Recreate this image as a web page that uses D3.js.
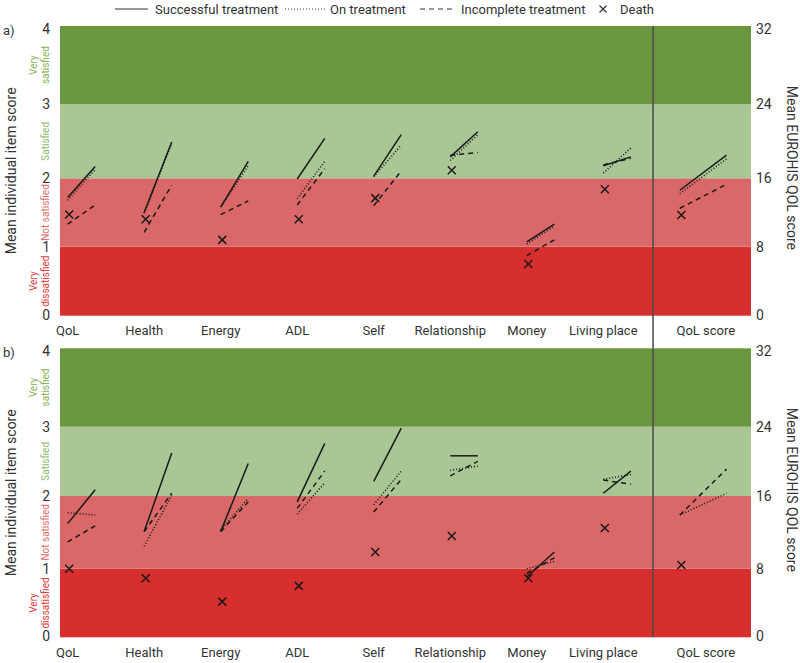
<!DOCTYPE html>
<html><head><meta charset="utf-8">
<script src="https://cdn.jsdelivr.net/npm/d3@7"></script>
<style>body{margin:0;background:#fff}svg{display:block;font-family:Roboto,"Noto Sans",sans-serif}</style>
</head><body><svg id="chart" width="800" height="663"></svg>
<script>
// ---------- data ----------
const categories = ["QoL","Health","Energy","ADL","Self","Relationship","Money","Living place","QoL score"];
const itemTicks = [0,1,2,3,4];
const scoreTicks = [0,8,16,24,32];
const bandNames = [["Very","dissatisfied"],["Not satisfied"],["Satisfied"],["Very","satisfied"]];
const seriesNames = ["Successful treatment","On treatment","Incomplete treatment","Death"];
const panelNames = ["a)","b)"];

// [baseline, follow-up]; last entry is the EUROHIS QOL score (0-32)
const successA    = [[1.72,2.16],[1.50,2.49],[1.58,2.23],[1.99,2.54],[2.03,2.59],[2.29,2.63],[1.07,1.33],[2.17,2.29],[14.6,18.5]];
const onTreatA    = [[1.68,2.12],[1.49,2.47],[1.58,2.17],[1.70,2.23],[2.02,2.45],[2.24,2.59],[1.04,1.30],[2.07,2.41],[14.2,18.1]];
const incompleteA = [[1.33,1.61],[1.21,1.90],[1.47,1.67],[1.61,2.13],[1.60,2.10],[2.31,2.35],[0.87,1.10],[2.18,2.27],[12.5,15.3]];
const deathA      = [1.47,1.40,1.10,1.40,1.71,2.11,0.75,1.84,11.7];

const successB    = [[1.62,2.09],[1.51,2.62],[1.51,2.47],[1.92,2.76],[2.21,2.98],[2.58,2.58],[0.88,1.23],[2.04,2.36],null];
const onTreatB    = [[1.77,1.74],[1.31,2.01],[1.53,1.97],[1.75,2.19],[1.88,2.36],[2.37,2.43],[1.00,1.10],[2.24,2.31],[13.9,16.3]];
const incompleteB = [[1.37,1.59],[1.51,2.04],[1.51,1.92],[1.83,2.36],[1.78,2.24],[2.29,2.50],[0.93,1.15],[2.23,2.17],[13.9,19.1]];
const deathB      = [1.00,0.86,0.52,0.75,1.23,1.45,0.86,1.56,8.4];

// ---------- layout / style ----------
const svg = d3.select("#chart");
const left = 60, right = 751;
const bandColors = ["#d62f2d","#da6868","#a9c795","#6a973e"];
const bandTextColors = ["#e4393a","#e26b6b","#8fbd6c","#86b454"];
const lineStyles = [null, "1,2", "5,4"];
const panels = [
  {top:26, stops:[315.7,246.7,178.3,104.3,26], series:[successA,onTreatA,incompleteA], death:deathA},
  {top:348.3, stops:[637.3,568.7,496,426.7,348.3], series:[successB,onTreatB,incompleteB], death:deathB}
];
const x = d3.scaleLinear().domain([-0.1, 8.93]).range([left, right]);
const span = i => i === 8 ? 0.61 : 0.36;
const line = d3.line().x(d => d[0]).y(d => d[1]);
const crossPath = "M-4,-4L4,4M-4,4L4,-4";

panels.forEach((p, pi) => {
  const y = d3.scaleLinear().domain(itemTicks).range(p.stops);
  const yS = d3.scaleLinear().domain(scoreTicks).range(p.stops);
  const g = svg.append("g");
  // bands
  g.selectAll("rect.band").data(d3.range(4)).join("rect")
    .attr("x", left).attr("width", right - left)
    .attr("y", k => y(k + 1)).attr("height", k => y(k) - y(k + 1))
    .attr("fill", k => bandColors[k]);
  // band labels
  bandNames.forEach((nm, k) => {
    const yc = (y(k) + y(k + 1)) / 2;
    nm.forEach((t, j) => {
      const xx = nm.length === 2 ? (j === 0 ? 33 : 45) : 45;
      g.append("text").attr("transform", `translate(${xx},${yc}) rotate(-90)`)
        .attr("text-anchor", "middle").attr("dy", "0.35em")
        .attr("font-size", 10).attr("fill", bandTextColors[k]).text(t);
    });
  });
  // left ticks
  g.selectAll("text.lt").data(itemTicks).join("text")
    .attr("x", 50).attr("y", d => y(d) + (d === 4 ? 3 : d === 0 ? -1 : 0))
    .attr("text-anchor", "end").attr("dy", "0.35em").attr("font-size", 14).attr("fill", "#333")
    .text(d => d);
  // right ticks
  g.selectAll("text.rt").data(scoreTicks).join("text")
    .attr("x", 756).attr("y", d => yS(d) + (d === 32 ? 3 : d === 0 ? -1 : 0))
    .attr("text-anchor", "start").attr("dy", "0.35em").attr("font-size", 14).attr("fill", "#333")
    .text(d => d);
  // axis titles
  const mid = (p.stops[0] + p.stops[4]) / 2;
  g.append("text").attr("transform", `translate(11,${mid}) rotate(-90)`)
    .attr("text-anchor", "middle").attr("dy", "0.35em").attr("font-size", 14).attr("fill", "#333")
    .text("Mean individual item score");
  g.append("text").attr("transform", `translate(792,${mid - 3}) rotate(90)`)
    .attr("text-anchor", "middle").attr("dy", "0.35em").attr("font-size", 14).attr("fill", "#333")
    .text("Mean EUROHIS QOL score");
  // panel label
  g.append("text").attr("x", 3).attr("y", p.stops[4] + 4).attr("dy", "0.35em")
    .attr("font-size", 13).attr("fill", "#333").text(panelNames[pi]);
  // category labels
  g.selectAll("text.cat").data(categories).join("text")
    .attr("x", (d, i) => x(i === 8 ? 8.34 : i))
    .attr("y", p.stops[0] + 15).attr("dy", "0.35em")
    .attr("text-anchor", "middle").attr("font-size", 13).attr("fill", "#333")
    .text(d => d);
  // series lines
  p.series.forEach((arr, si) => {
    arr.forEach((v, i) => {
      if (!v) return;
      const sc = i === 8 ? yS : y;
      g.append("path")
        .attr("d", line([[x(i), sc(v[0])], [x(i + span(i)), sc(v[1])]]))
        .attr("fill", "none").attr("stroke", "#1a1a1a").attr("stroke-width", si === 1 ? 1.6 : 1.5)
        .attr("stroke-dasharray", lineStyles[si]);
    });
  });
  // death markers
  g.selectAll("path.death").data(p.death).join("path")
    .attr("transform", (d, i) => `translate(${x(i + 0.02)},${(i === 8 ? yS : y)(d)})`)
    .attr("d", crossPath).attr("fill", "none").attr("stroke", "#1a1a1a").attr("stroke-width", 1.5);
});

// divider
svg.append("line").attr("x1", x(7.65)).attr("x2", x(7.65))
  .attr("y1", panels[0].top).attr("y2", panels[1].stops[0])
  .attr("stroke", "#4a4a4a").attr("stroke-width", 1.5);

// legend
const legend = svg.append("g").attr("font-size", 13).attr("fill", "#333");
const legItems = [
  {x0:115, x1:148, tx:155, style:null},
  {x0:285, x1:326, tx:330, style:"1,2"},
  {x0:420, x1:455, tx:461, style:"5,4"},
];
legItems.forEach((it, k) => {
  legend.append("path").attr("d", line([[it.x0, 9], [it.x1, 9]]))
    .attr("stroke", "#333").attr("stroke-width", 1.2).attr("fill", "none")
    .attr("stroke-dasharray", it.style);
  legend.append("text").attr("x", it.tx).attr("y", 9).attr("dy", "0.35em").text(seriesNames[k]);
});
legend.append("path").attr("transform", "translate(603,9)").attr("d", "M-3.5,-3.5L3.5,3.5M-3.5,3.5L3.5,-3.5")
  .attr("stroke", "#333").attr("stroke-width", 1.2);
legend.append("text").attr("x", 620).attr("y", 9).attr("dy", "0.35em").text(seriesNames[3]);
</script></body></html>
